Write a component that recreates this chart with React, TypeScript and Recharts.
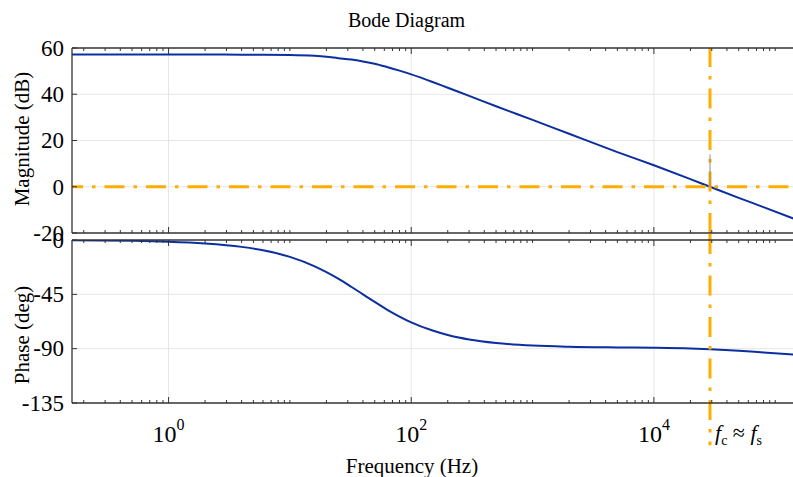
import { LineChart, Line, XAxis, YAxis, ReferenceLine } from "recharts";

// frequency response read at these frequencies (Hz)
const freqHz = [
  0.16, 0.5, 1, 2, 4, 6, 10, 16, 20, 25, 32, 40, 50, 63, 80, 100, 150, 200,
  300, 500, 1000, 2000, 5000, 10000, 20000, 29000, 50000, 80000, 160000,
];
const magnitudeDb = [
  57.2, 57.2, 57.2, 57.2, 57.1, 57.1, 57.0, 56.6, 56.2, 55.6, 55.0, 54.2, 53.2,
  51.8, 50.2, 48.6, 45.3, 42.8, 39.3, 34.8, 28.9, 22.9, 15.0, 9.3, 3.3, 0,
  -4.8, -8.8, -14.8,
];
const phaseDeg = [
  -0.3, -0.7, -1.4, -2.9, -5.7, -8.5, -14, -21.8, -26.6, -32, -38.7, -45,
  -51.3, -57.6, -63.4, -68.2, -75, -78.7, -82.4, -85.3, -87.4, -88.4, -89,
  -89.3, -89.9, -90.5, -91.7, -93.1, -95.2,
];

const crossoverHz = 29000;

const magTicks = [-20, 0, 20, 40, 60];
const phaseTicks = [-135, -90, -45, 0];
const labelledDecades = [1, 100, 10000];
const magGrid = [0, 20, 40];
const phaseGrid = [-45, -90];
const freqDomain = [0.16, 160000];

// 1..9 x 10^n tick marks that fall inside the frequency range
const freqTicks: number[] = [];
for (let e = -1; e <= 5; e++) {
  for (let k = 1; k <= 9; k++) {
    const v = Number((k * 10 ** e).toPrecision(3));
    if (v >= freqDomain[0] && v <= freqDomain[1]) freqTicks.push(v);
  }
}

const data = freqHz.map((f, i) => ({ f, mag: magnitudeDb[i], phase: phaseDeg[i] }));

const BLUE = "#0b2ea0";
const ORANGE = "#ffad00";
const FRAME = "#333333";
const GRID = "#e6e6e6";
const FONT = "'Liberation Serif', 'Times New Roman', Times, serif";
const DASHDOT = "20 9 3.5 9";

function FreqTick(props: any) {
  const { x, y, payload, dir, labelled } = props;
  const v = payload.value;
  const major = labelledDecades.includes(v);
  const len = major ? 6 : 3;
  return (
    <g>
      <line x1={x} x2={x} y1={y} y2={y + dir * len} stroke={FRAME} strokeWidth={1} />
      {labelled && major && (
        <text x={x} y={y + 39} textAnchor="middle" fontFamily={FONT} fontSize={24} fill="#000">
          10
          <tspan dy={-12} fontSize={16}>
            {Math.round(Math.log10(v))}
          </tspan>
        </text>
      )}
    </g>
  );
}

function ValueTick(props: any) {
  const { x, y, payload } = props;
  return (
    <g>
      <line x1={x} x2={x + 5} y1={y} y2={y} stroke={FRAME} strokeWidth={1} />
      <text x={x - 8} y={y} dy="0.34em" textAnchor="end" fontFamily={FONT} fontSize={23} fill="#000">
        {payload.value}
      </text>
    </g>
  );
}

const axisLine = { stroke: FRAME, strokeWidth: 1.3 };

function freqAxis(id: string, orientation: "top" | "bottom", height: number, labelled: boolean) {
  return (
    <XAxis
      xAxisId={id}
      orientation={orientation}
      type="number"
      dataKey="f"
      scale="log"
      domain={freqDomain}
      allowDataOverflow
      ticks={freqTicks}
      interval={0}
      height={height}
      tickSize={0}
      tickMargin={0}
      tickLine={false}
      axisLine={axisLine}
      tick={(p: any) => <FreqTick {...p} dir={orientation === "top" ? 1 : -1} labelled={labelled} />}
    />
  );
}

export default function App() {
  return (
    <div
      style={{
        position: "absolute",
        left: 0,
        top: 0,
        width: 793,
        height: 477,
        overflow: "hidden",
        background: "#fff",
        fontFamily: FONT,
        color: "#000",
      }}
    >
      <div style={{ position: "absolute", left: 0, top: 10, width: 813, textAlign: "center", fontSize: 20, lineHeight: "20px" }}>
        Bode Diagram
      </div>

      {/* magnitude panel */}
      <div style={{ position: "absolute", left: 0, top: 0 }}>
        <LineChart width={800} height={250} data={data} margin={{ top: 47, right: 0, bottom: 16, left: 10 }}>
          {freqAxis("t", "top", 1, false)}
          {freqAxis("b", "bottom", 1, false)}
          <YAxis
            type="number"
            domain={[-20, 60]}
            ticks={magTicks}
            interval={0}
            allowDataOverflow
            width={62}
            tickSize={0}
            tickMargin={0}
            tickLine={false}
            axisLine={axisLine}
            tick={(p: any) => <ValueTick {...p} />}
          />
          {labelledDecades.map((d) => (
            <ReferenceLine key={"vx" + d} xAxisId="b" x={d} stroke={GRID} strokeWidth={1} />
          ))}
          {magGrid.map((g) => (
            <ReferenceLine key={"hy" + g} xAxisId="b" y={g} stroke={GRID} strokeWidth={1} />
          ))}
          <Line
            xAxisId="b"
            type="monotone"
            dataKey="mag"
            stroke={BLUE}
            strokeWidth={2}
            dot={false}
            isAnimationActive={false}
          />
          <ReferenceLine xAxisId="b" y={0} stroke={ORANGE} strokeWidth={3} strokeDasharray={DASHDOT} strokeDashoffset={9} />
          <ReferenceLine xAxisId="b" x={crossoverHz} stroke={ORANGE} strokeWidth={3} strokeDasharray={DASHDOT} />
          <ReferenceLine
            xAxisId="b"
            segment={[
              { x: crossoverHz, y: 14 },
              { x: crossoverHz, y: 0 },
            ]}
            stroke="#8a8a8a"
            strokeWidth={1}
          />
        </LineChart>
      </div>

      {/* phase panel */}
      <div style={{ position: "absolute", left: 0, top: 226 }}>
        <LineChart width={800} height={251} data={data} margin={{ top: 13, right: 0, bottom: 4, left: 10 }}>
          {freqAxis("t", "top", 1, false)}
          {freqAxis("b", "bottom", 70, true)}
          <YAxis
            type="number"
            domain={[-135, 0]}
            ticks={phaseTicks}
            interval={0}
            allowDataOverflow
            width={62}
            tickSize={0}
            tickMargin={0}
            tickLine={false}
            axisLine={axisLine}
            tick={(p: any) => <ValueTick {...p} />}
          />
          {labelledDecades.map((d) => (
            <ReferenceLine key={"vx" + d} xAxisId="b" x={d} stroke={GRID} strokeWidth={1} />
          ))}
          {phaseGrid.map((g) => (
            <ReferenceLine key={"hy" + g} xAxisId="b" y={g} stroke={GRID} strokeWidth={1} />
          ))}
          <Line
            xAxisId="b"
            type="monotone"
            dataKey="phase"
            stroke={BLUE}
            strokeWidth={2}
            dot={false}
            isAnimationActive={false}
          />
          <ReferenceLine
            xAxisId="b"
            ifOverflow="visible"
            segment={[
              { x: crossoverHz, y: 5 },
              { x: crossoverHz, y: -170 },
            ]}
            stroke={ORANGE}
            strokeWidth={3}
            strokeDasharray={DASHDOT}
          />
        </LineChart>
      </div>

      {/* axis titles */}
      <div
        style={{
          position: "absolute",
          left: 22,
          top: 139,
          transform: "translate(-50%, -50%) rotate(-90deg)",
          fontSize: 21,
          lineHeight: "21px",
          whiteSpace: "nowrap",
        }}
      >
        Magnitude (dB)
      </div>
      <div
        style={{
          position: "absolute",
          left: 22,
          top: 335,
          transform: "translate(-50%, -50%) rotate(-90deg)",
          fontSize: 21,
          lineHeight: "21px",
          whiteSpace: "nowrap",
        }}
      >
        Phase (deg)
      </div>
      <div
        style={{
          position: "absolute",
          left: 0,
          top: 456,
          width: 824,
          textAlign: "center",
          fontSize: 21,
          lineHeight: "21px",
        }}
      >
        Frequency (Hz)
      </div>

      {/* crossover annotation */}
      <div style={{ position: "absolute", left: 715, top: 422, fontSize: 22, lineHeight: "22px", whiteSpace: "nowrap" }}>
        <i>f</i>
        <span style={{ fontSize: 14, position: "relative", top: 5 }}>c</span>
        <span> ≈ </span>
        <i>f</i>
        <span style={{ fontSize: 14, position: "relative", top: 5 }}>s</span>
      </div>
    </div>
  );
}
